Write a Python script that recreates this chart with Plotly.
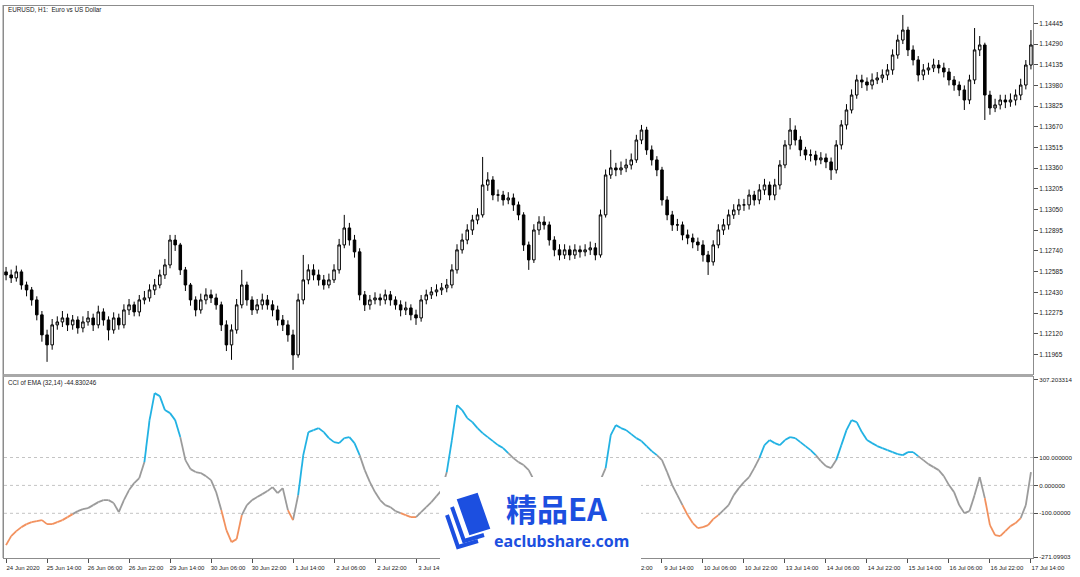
import plotly.graph_objects as go

W, H = 1080, 577

# ---------------- data ----------------
# H1 bar index (hours since first bar), sampled every 2 bars
bar_index = list(range(0, 401, 2))

# prices in points (1e-5)
first_open_pts = 112583
close_pts = [
    112560, 112538, 112583, 112485, 112448, 112373, 112261, 112111, 112036, 112186,
    112208, 112238, 112186, 112223, 112163, 112208, 112238, 112186, 112283, 112223,
    112148, 112238, 112186, 112298, 112336, 112283, 112373, 112388, 112448, 112485,
    112560, 112635, 112822, 112785, 112598, 112485, 112373, 112298, 112373, 112411,
    112388, 112336, 112186, 112036, 112148, 112336, 112485, 112373, 112298, 112336,
    112373, 112336, 112298, 112223, 112186, 112111, 111961, 112373, 112523, 112598,
    112560, 112523, 112485, 112523, 112598, 112785, 112912, 112822, 112733, 112411,
    112336, 112373, 112388, 112373, 112411, 112373, 112336, 112298, 112313, 112261,
    112238, 112373, 112411, 112433, 112448, 112463, 112485, 112598, 112748, 112822,
    112897, 112972, 113010, 113234, 113272, 113159, 113159, 113122, 113137, 113085,
    113010, 112785, 112673, 112897, 112957, 112935, 112822, 112748, 112710, 112748,
    112710, 112748, 112733, 112748, 112763, 112710, 113010, 113309, 113362, 113347,
    113362, 113384, 113422, 113571, 113646, 113497, 113422, 113347, 113122, 113010,
    112935, 112935, 112860, 112837, 112807, 112785, 112710, 112658, 112785, 112897,
    112935, 113010, 113047, 113085, 113085, 113159, 113122, 113197, 113234, 113159,
    113234, 113384, 113534, 113646, 113571, 113497, 113459, 113459, 113422, 113437,
    113407, 113347, 113534, 113684, 113796, 113908, 114021, 114006, 113983, 114021,
    114036, 114058, 114096, 114208, 114320, 114395, 114246, 114171, 114058, 114096,
    114111, 114133, 114111, 114081, 114021, 113983, 113946, 113871, 114021, 114246,
    114283, 113908, 113811, 113834, 113871, 113856, 113871, 113908, 113983, 114133,
    114283,
]
high_pts = [
    112620, 112600, 112630, 112600, 112510, 112470, 112400, 112290, 112150, 112230,
    112250, 112290, 112270, 112260, 112250, 112250, 112290, 112270, 112330, 112310,
    112250, 112280, 112270, 112340, 112380, 112360, 112410, 112440, 112490, 112530,
    112600, 112680, 112860, 112860, 112800, 112620, 112500, 112400, 112420, 112460,
    112450, 112420, 112360, 112220, 112190, 112380, 112598, 112510, 112400, 112380,
    112420, 112410, 112370, 112330, 112260, 112220, 112150, 112420, 112710, 112640,
    112640, 112600, 112560, 112570, 112640, 112830, 113010, 112950, 112860, 112760,
    112440, 112410, 112430, 112420, 112450, 112440, 112400, 112370, 112360, 112340,
    112300, 112410, 112450, 112470, 112490, 112500, 112530, 112640, 112790, 112870,
    112940, 113010, 113060, 113444, 113330, 113300, 113200, 113190, 113180, 113170,
    113110, 113030, 112810, 112940, 113000, 113000, 112960, 112850, 112790, 112790,
    112780, 112790, 112780, 112790, 112810, 112800, 113050, 113350, 113497, 113400,
    113410, 113430, 113470, 113610, 113684, 113670, 113530, 113450, 113370, 113150,
    113040, 112980, 112960, 112900, 112870, 112840, 112820, 112740, 112820, 112940,
    112980, 113050, 113090, 113130, 113130, 113200, 113190, 113240, 113280, 113260,
    113280, 113420, 113570, 113736, 113680, 113600, 113520, 113500, 113490, 113480,
    113470, 113440, 113570, 113720, 113840, 113950, 114060, 114060, 114040, 114070,
    114080, 114100, 114140, 114250, 114360, 114508, 114420, 114280, 114200, 114140,
    114150, 114180, 114170, 114150, 114110, 114050, 114010, 113980, 114060, 114410,
    114350, 114300, 113940, 113880, 113910, 113910, 113920, 113950, 114030, 114170,
    114395,
]
low_pts = [
    112520, 112500, 112510, 112450, 112400, 112330, 112220, 112060, 111909, 112000,
    112150, 112170, 112140, 112150, 112120, 112130, 112180, 112140, 112160, 112180,
    112070, 112120, 112150, 112160, 112260, 112250, 112250, 112340, 112360, 112410,
    112460, 112530, 112610, 112740, 112560, 112440, 112330, 112250, 112270, 112340,
    112350, 112300, 112140, 111990, 111924, 112120, 112310, 112330, 112260, 112270,
    112300, 112300, 112250, 112180, 112140, 112060, 111849, 111940, 112340, 112490,
    112520, 112480, 112450, 112460, 112500, 112570, 112760, 112780, 112690, 112370,
    112290, 112300, 112340, 112330, 112340, 112330, 112300, 112250, 112260, 112220,
    112186, 112210, 112340, 112380, 112400, 112410, 112430, 112460, 112570, 112720,
    112790, 112860, 112940, 112990, 113190, 113120, 113110, 113080, 113090, 113040,
    112970, 112740, 112598, 112650, 112860, 112900, 112780, 112700, 112670, 112680,
    112670, 112680, 112690, 112700, 112710, 112670, 112690, 112990, 113280, 113300,
    113310, 113330, 113350, 113400, 113540, 113460, 113380, 113300, 113080, 112970,
    112890, 112890, 112820, 112790, 112760, 112740, 112660, 112560, 112630, 112760,
    112860, 112900, 112980, 113010, 113040, 113050, 113080, 113090, 113160, 113120,
    113120, 113200, 113360, 113500, 113530, 113450, 113420, 113410, 113380, 113390,
    113360, 113272, 113320, 113500, 113650, 113770, 113880, 113960, 113940, 113950,
    113990, 114000, 114020, 114060, 114180, 114290, 114200, 114130, 114010, 114020,
    114060, 114080, 114070, 114040, 113980, 113940, 113900, 113796, 113840, 113990,
    114200, 113721, 113760, 113780, 113800, 113810, 113820, 113830, 113870, 113950,
    114100,
]
open_pts = [first_open_pts] + close_pts[:-1]

# CCI of EMA (32,14) values
cci = [
    -214.0, -181.7, -163.8, -149.5, -138.7, -131.5, -128.0, -124.4, -138.7, -138.7,
    -131.5, -124.4, -113.6, -102.9, -92.1, -84.9, -81.4, -70.6, -59.9, -52.7,
    -52.7, -63.4, -95.7, -52.7, -16.8, 8.2, 26.2, 83.5, 234.0, 330.8,
    320.0, 269.9, 259.1, 234.0, 173.1, 90.7, 58.4, 47.7, 44.1, 33.3,
    19.0, -24.0, -88.5, -160.2, -203.2, -192.5, -106.4, -70.6, -52.7, -41.9,
    -31.2, -20.4, -6.1, -27.6, -9.7, -88.5, -124.4, -34.8, 108.6, 191.0,
    198.2, 205.4, 191.0, 169.5, 155.2, 151.6, 169.5, 173.1, 151.6, 108.6,
    54.8, 11.8, -24.0, -52.7, -70.6, -77.8, -92.1, -99.3, -106.4, -113.6,
    -113.6, -95.7, -77.8, -59.9, -38.3, -16.8, 47.7, 162.4, 287.8, 269.9,
    241.2, 226.9, 205.4, 187.4, 173.1, 158.8, 144.4, 133.7, 115.8, 97.8,
    83.5, 72.8, 54.8, 19.0, -16.8, -41.9, -59.9, -74.2, -81.4, -84.9,
    -81.4, -70.6, -52.7, -34.8, -16.8, 1.1, 19.0, 62.0, 180.3, 216.1,
    205.4, 198.2, 183.9, 169.5, 158.8, 140.9, 122.9, 108.6, 90.7, 47.7,
    1.1, -34.8, -70.6, -106.4, -135.1, -153.0, -149.5, -142.3, -120.8, -106.4,
    -88.5, -70.6, -34.8, -9.7, 11.8, 29.7, 62.0, 97.8, 144.4, 162.4,
    151.6, 144.4, 162.4, 173.1, 169.5, 155.2, 140.9, 126.5, 108.6, 87.1,
    69.2, 62.0, 90.7, 144.4, 198.2, 234.0, 226.9, 191.0, 162.4, 151.6,
    140.9, 133.7, 126.5, 119.3, 112.2, 108.6, 119.3, 119.3, 105.0, 90.7,
    76.3, 65.6, 54.8, 33.3, 1.1, -24.0, -70.6, -99.3, -92.1, -34.8,
    29.7, -45.5, -142.3, -178.1, -181.7, -163.8, -145.9, -135.1, -117.2, -70.6,
    47.7,
]
cci_levels = [100, 0, -100]

time_labels = [
    "24 Jun 2020", "25 Jun 14:00", "26 Jun 06:00", "26 Jun 22:00", "29 Jun 14:00",
    "30 Jun 06:00", "30 Jun 22:00", "1 Jul 14:00", "2 Jul 06:00", "2 Jul 22:00",
    "3 Jul 14:00", "6 Jul 06:00", "6 Jul 22:00", "7 Jul 14:00", "8 Jul 06:00",
    "8 Jul 22:00", "9 Jul 14:00", "10 Jul 06:00", "10 Jul 22:00", "13 Jul 14:00",
    "14 Jul 06:00", "14 Jul 22:00", "15 Jul 14:00", "16 Jul 06:00", "16 Jul 22:00",
    "17 Jul 14:00",
]
label_bars = [16 * k for k in range(len(time_labels))]

price_ticks = ["1.11965", "1.12120", "1.12275", "1.12430", "1.12585", "1.12740",
               "1.12895", "1.13050", "1.13205", "1.13360", "1.13515", "1.13670",
               "1.13825", "1.13980", "1.14135", "1.14290", "1.14445"]
cci_tick_vals = [379, 100, 0, -100, -257]
cci_tick_text = ["307.203314", "100.000000", "0.000000", "-100.00000", "-271.09903"]

# ---------------- helpers (layout only) ----------------
def X(px):
    return px / W

def Y(py):
    return 1 - py / H

FONT = "Liberation Sans"
AX = "#8c8c8c"
TXT = "#1a1a1a"
BLUE, GRAY, ORANGE = "#22b2e3", "#9b9b9b", "#f2915e"

fig = go.Figure()

fig.add_trace(go.Candlestick(
    x=bar_index,
    open=[v / 1e5 for v in open_pts], high=[v / 1e5 for v in high_pts],
    low=[v / 1e5 for v in low_pts], close=[v / 1e5 for v in close_pts],
    increasing=dict(line=dict(color="#000000", width=1), fillcolor="#ffffff"),
    decreasing=dict(line=dict(color="#000000", width=1), fillcolor="#000000"),
    whiskerwidth=0, showlegend=False, hoverinfo="skip",
    xaxis="x", yaxis="y",
))

# CCI colored line: each segment takes the colour of its end bar
def seg_color(v):
    if v > 100:
        return BLUE
    if v < -100:
        return ORANGE
    return GRAY

for col in (GRAY, BLUE, ORANGE):
    xs, ys = [], []
    for i in range(1, len(cci)):
        if seg_color(cci[i]) == col:
            xs += [bar_index[i - 1], bar_index[i], None]
            ys += [cci[i - 1], cci[i], None]
    fig.add_trace(go.Scatter(x=xs, y=ys, mode="lines",
                             line=dict(color=col, width=1.8),
                             showlegend=False, hoverinfo="skip",
                             xaxis="x2", yaxis="y2"))

xr = [-0.8, 400.8]
dom_x = [X(4), X(1033)]

fig.update_layout(
    width=W, height=H, margin=dict(l=0, r=0, t=0, b=0, autoexpand=False),
    paper_bgcolor="white", plot_bgcolor="white",
    font=dict(family=FONT, size=6.5, color=TXT),
    xaxis=dict(domain=dom_x, range=xr, anchor="y", showline=True, mirror=True,
               linecolor=AX, linewidth=1, showgrid=False, zeroline=False,
               showticklabels=False, ticks="", automargin=False,
               rangeslider=dict(visible=False)),
    yaxis=dict(domain=[Y(374), Y(6)], range=[1.11818, 1.14575], anchor="x",
               side="right", showline=True, mirror=True, linecolor=AX, linewidth=1,
               showgrid=False, zeroline=False, ticks="outside", ticklen=4,
               tickcolor="#505050", tickvals=[float(t) for t in price_ticks],
               ticktext=price_ticks, tickfont=dict(size=6.5, color=TXT),
               automargin=False),
    xaxis2=dict(domain=dom_x, range=xr, anchor="y2", matches="x", showline=True,
                mirror=True, linecolor=AX, linewidth=1, showgrid=False,
                zeroline=False, ticks="outside", ticklen=4, tickcolor="#505050",
                tickvals=label_bars, ticktext=time_labels, showticklabels=True,
                ticklabelshift=17, ticklabelstandoff=0, automargin=False,
                tickfont=dict(size=6, color=TXT)),
    yaxis2=dict(domain=[Y(558), Y(377)], range=[-260.2, 388.5], anchor="x2",
                side="right", showline=True, mirror=True, linecolor=AX, linewidth=1,
                showgrid=False, zeroline=False, ticks="outside", ticklen=4,
                tickcolor="#505050", tickvals=cci_tick_vals, ticktext=cci_tick_text,
                tickfont=dict(size=6.2, color=TXT), automargin=False),
)

shapes = []
# level lines of the indicator window
for lv in cci_levels:
    shapes.append(dict(type="line", xref="x2 domain", yref="y2", x0=0, x1=1,
                       y0=lv, y1=lv, line=dict(color="#c4c4c4", width=1, dash="dot"),
                       layer="below"))
# window separator
shapes.append(dict(type="rect", xref="paper", yref="paper", x0=X(3), x1=X(1033),
                   y0=Y(377), y1=Y(374), fillcolor="#a8a8a8", line=dict(width=0)))
# outer frame left
shapes.append(dict(type="line", xref="paper", yref="paper", x0=X(3), x1=X(3),
                   y0=Y(558), y1=Y(5), line=dict(color=AX, width=1)))

# watermark panel
shapes.append(dict(type="rect", xref="paper", yref="paper", x0=X(440), x1=X(641),
                   y0=0, y1=Y(477), fillcolor="white", line=dict(width=0),
                   layer="above"))
WM = "#1c4fe0"
def poly(pts):
    return "M " + " L ".join(f"{X(a):.5f},{Y(b):.5f}" for a, b in pts) + " Z"
def pline(pts):
    return "M " + " L ".join(f"{X(a):.5f},{Y(b):.5f}" for a, b in pts)
shapes.append(dict(type="path", xref="paper", yref="paper",
                   path=poly([(458, 500), (477, 494), (489, 528), (470, 534)]),
                   fillcolor=WM, line=dict(color=WM, width=2), layer="above"))
shapes.append(dict(type="path", xref="paper", yref="paper",
                   path=pline([(452, 507), (464, 541), (484, 535)]),
                   line=dict(color=WM, width=4), layer="above"))
shapes.append(dict(type="path", xref="paper", yref="paper",
                   path=pline([(447, 515), (458, 547), (478, 541)]),
                   line=dict(color=WM, width=4), layer="above"))

annotations = []
annotations.append(dict(x=X(6), y=Y(10), xref="paper", yref="paper",
                        text="EURUSD, H1:  Euro vs US Dollar", showarrow=False,
                        xanchor="left", yanchor="middle",
                        font=dict(size=6.3, color=TXT)))
annotations.append(dict(x=X(6), y=Y(383), xref="paper", yref="paper",
                        text="CCI of EMA (32,14) -44.830246", showarrow=False,
                        xanchor="left", yanchor="middle",
                        font=dict(size=6.3, color=TXT)))
annotations.append(dict(x=X(556), y=Y(507), xref="paper", yref="paper",
                        text="<b>精品EA</b>", showarrow=False,
                        xanchor="center", yanchor="middle",
                        font=dict(family="Noto Sans CJK SC", size=31, color=WM)))
annotations.append(dict(x=X(561), y=Y(541), xref="paper", yref="paper",
                        text="<b>eaclubshare.com</b>", showarrow=False,
                        xanchor="center", yanchor="middle",
                        font=dict(family="Noto Sans", size=16, color=WM)))

fig.update_layout(shapes=shapes, annotations=annotations)

fig.write_html("out.html", config={"displayModeBar": False},
               post_script="document.body.style.margin='0px';"
                           "document.body.style.overflow='hidden';")
